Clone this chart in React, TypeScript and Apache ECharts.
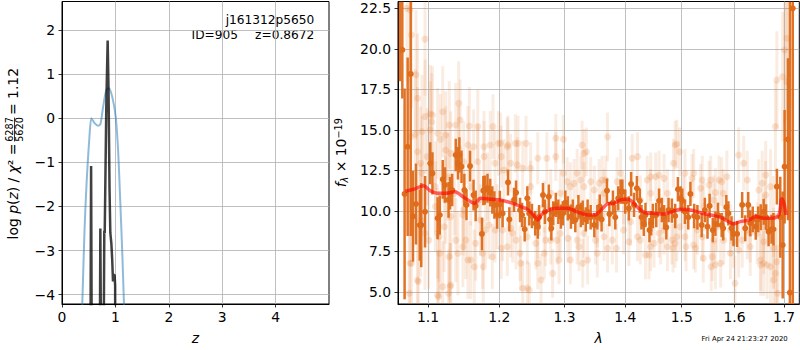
import React, { useEffect, useRef } from 'react';
import * as echarts from 'echarts';

// ---------- Left panel: log p(z) ----------
const zTicks = [0, 1, 2, 3, 4];
const pzTicks = [-4, -3, -2, -1, 0, 1, 2];
const priorZ = [0.35, 0.38, 0.42, 0.457, 0.51, 0.55, 0.58, 0.61, 0.674, 0.72, 0.77, 0.83, 0.875, 0.94, 1.005, 1.05, 1.09, 1.13, 1.16, 1.19];
const priorLogP = [-5.2, -4.2, -2.6, -1.55, -0.49, 0.0, -0.05, -0.11, -0.17, -0.13, 0.26, 0.64, 0.68, 0.49, 0.04, -0.72, -1.85, -3.1, -4.2, -5.5];
const pzZ = [0.5, 0.535, 0.545, 0.555, 0.59, 0.69, 0.712, 0.718, 0.726, 0.75, 0.772, 0.792, 0.8, 0.83, 0.855, 0.863, 0.872, 0.89, 0.905, 0.925, 0.94, 0.955, 0.965, 0.985, 0.995, 1.0];
const pzLogP = [-8, -4.5, -1.08, -4.5, -8, -8, -4.3, -2.5, -4.3, -8, -7, -2.55, -2.6, 0.3, 1.76, 1.76, 0.6, -1.6, -2.6, -2.85, -3.2, -3.7, -3.55, -3.55, -3.8, -8];

// ---------- Right panel: spectrum ----------
const lamTicks = [1.1, 1.2, 1.3, 1.4, 1.5, 1.6, 1.7];
const fluxTicks = [5, 7.5, 10, 12.5, 15, 17.5, 20, 22.5];
const lamRange = [1.0604, 1.7318];
const fluxRange = [4.26, 22.92];

// individual (unbinned) measurements: [lambda, flux, err]
const faintPoints = [
  [1.072, 22.5, 4.5], [1.075, 4.92, 4.5], [1.076, 22.4, 4.5], [1.076, 6.77, 4.5], [1.077, 14.58, 4.5], [1.078, 20.85, 4.5],
  [1.078, 6.77, 4.0], [1.083, 14.75, 4.0], [1.084, 18.4, 4.0], [1.086, 16.95, 4.0], [1.086, 13.65, 4.0], [1.086, 5.74, 4.0],
  [1.087, 5.64, 3.5], [1.09, 9.44, 3.5], [1.09, 12.94, 3.5], [1.092, 14.89, 3.5], [1.092, 12.32, 3.5], [1.096, 15.83, 3.5],
  [1.096, 8.62, 3.5], [1.096, 20.6, 3.5], [1.099, 13.35, 3.0],
  [1.101, 8.2, 3.0], [1.103, 16.0, 3.0], [1.103, 15.0, 3.0], [1.105, 15.5, 3.0], [1.106, 15.92, 3.0], [1.11, 11.5, 2.8],
  [1.11, 10.27, 2.8], [1.113, 14.79, 2.8], [1.113, 4.81, 2.8], [1.113, 8.62, 2.8], [1.114, 4.71, 2.8], [1.115, 8.41, 2.8],
  [1.116, 7.39, 2.8], [1.117, 14.42, 2.8], [1.12, 16.12, 2.8], [1.12, 5.33, 2.8], [1.122, 9.03, 2.8], [1.124, 14.69, 2.7],
  [1.124, 10.68, 2.7], [1.124, 13.76, 2.7], [1.127, 12.11, 2.7], [1.128, 4.92, 2.7], [1.129, 15.3, 2.7], [1.129, 7.18, 2.7],
  [1.13, 5.33, 2.7], [1.131, 13.55, 2.6], [1.131, 9.65, 2.6], [1.131, 5.43, 2.6], [1.136, 11.09, 2.6], [1.138, 15.3, 2.6],
  [1.138, 8.2, 2.6], [1.141, 7.39, 2.6], [1.142, 16.64, 2.6], [1.142, 13.87, 2.6], [1.144, 15.61, 2.5], [1.148, 7.79, 2.5],
  [1.148, 9.75, 2.5], [1.149, 13.04, 2.5], [1.149, 10.06, 2.5], [1.152, 8.2, 2.4], [1.155, 6.97, 2.4], [1.155, 14.07, 2.4],
  [1.157, 15.24, 2.4], [1.159, 11.5, 2.4], [1.159, 6.97, 2.4], [1.163, 13.96, 2.3], [1.164, 6.56, 2.3], [1.166, 8.0, 2.3],
  [1.169, 15.2, 2.3], [1.169, 13.04, 2.3], [1.171, 10.68, 2.2], [1.173, 9.44, 2.2], [1.176, 7.39, 2.2], [1.177, 6.56, 2.2],
  [1.178, 13.96, 2.2], [1.178, 13.35, 2.2], [1.18, 8.82, 2.1], [1.183, 11.5, 2.1], [1.185, 9.13, 2.1], [1.187, 14.07, 2.1],
  [1.19, 7.18, 2.0], [1.191, 15.2, 2.0], [1.194, 12.94, 2.0], [1.194, 8.82, 2.0], [1.197, 9.65, 2.0], [1.199, 14.17, 2.0],
  [1.202, 14.17, 1.9], [1.203, 13.35, 1.9], [1.203, 7.7, 1.9], [1.205, 8.82, 1.9], [1.207, 12.53, 1.9], [1.212, 13.96, 1.8],
  [1.212, 7.79, 1.8], [1.213, 14.07, 1.8], [1.217, 12.94, 1.8], [1.217, 8.93, 1.8], [1.22, 8.62, 1.8], [1.224, 14.17, 1.8],
  [1.225, 8.2, 1.8], [1.227, 12.84, 1.7], [1.228, 14.17, 1.7], [1.231, 7.39, 1.7], [1.232, 6.77, 1.7], [1.235, 12.63, 1.7],
  [1.235, 5.23, 1.7], [1.24, 14.17, 1.7], [1.242, 5.23, 1.7], [1.242, 8.41, 1.7], [1.245, 5.12, 1.7], [1.247, 12.63, 1.6],
  [1.247, 11.5, 1.6], [1.255, 8.0, 1.6], [1.258, 13.25, 1.6], [1.258, 8.62, 1.6], [1.258, 6.77, 1.6], [1.263, 5.74, 1.6],
  [1.268, 7.39, 1.6], [1.268, 10.27, 1.6], [1.27, 8.2, 1.6], [1.272, 13.25, 1.6], [1.278, 8.2, 1.5], [1.278, 11.09, 1.5],
  [1.281, 6.15, 1.5], [1.286, 14.48, 1.5], [1.286, 13.35, 1.5], [1.288, 8.2, 1.5], [1.291, 6.97, 1.5], [1.293, 8.62, 1.5],
  [1.293, 11.09, 1.5], [1.298, 12.32, 1.5], [1.298, 14.42, 1.5],
  [1.304, 11.81, 1.5], [1.305, 8.31, 1.5], [1.309, 6.97, 1.5], [1.309, 11.5, 1.5], [1.315, 11.7, 1.5], [1.32, 12.32, 1.5],
  [1.32, 8.2, 1.5], [1.323, 7.79, 1.5], [1.326, 11.91, 1.5], [1.328, 14.07, 1.5], [1.329, 6.77, 1.5], [1.331, 13.55, 1.5],
  [1.331, 11.5, 1.5], [1.331, 8.62, 1.5], [1.335, 13.65, 1.5], [1.337, 6.97, 1.5], [1.342, 11.81, 1.5], [1.348, 11.29, 1.5],
  [1.35, 8.2, 1.5], [1.353, 7.39, 1.5], [1.353, 9.24, 1.5], [1.356, 11.71, 1.5], [1.361, 11.91, 1.5], [1.364, 11.09, 1.5],
  [1.364, 8.41, 1.5], [1.367, 11.91, 1.5], [1.37, 14.57, 1.5], [1.37, 7.7, 1.5], [1.378, 8.2, 1.5], [1.385, 7.7, 1.5],
  [1.386, 11.81, 1.5], [1.392, 12.32, 1.5], [1.397, 8.82, 1.5], [1.397, 10.68, 1.5],
  [1.406, 8.1, 1.5], [1.409, 9.34, 1.5], [1.412, 13.25, 1.5], [1.421, 13.35, 1.5], [1.421, 8.41, 1.5], [1.426, 8.2, 1.5],
  [1.426, 10.68, 1.5], [1.435, 7.28, 1.5], [1.438, 11.91, 1.5], [1.441, 7.28, 1.5], [1.444, 7.79, 1.5], [1.444, 11.09, 1.5],
  [1.444, 12.11, 1.5], [1.45, 8.0, 1.5], [1.453, 12.11, 1.5], [1.459, 8.62, 1.5], [1.459, 12.22, 1.5], [1.462, 8.2, 1.5],
  [1.468, 12.01, 1.5], [1.468, 8.82, 1.5], [1.474, 7.79, 1.5], [1.474, 11.09, 1.5], [1.482, 8.2, 1.5], [1.484, 7.7, 1.5],
  [1.485, 12.94, 1.5], [1.488, 14.07, 1.5], [1.488, 8.0, 1.5], [1.491, 8.41, 1.5], [1.491, 14.13, 1.5], [1.496, 13.65, 1.5],
  [1.497, 9.03, 1.5],
  [1.503, 10.68, 1.5], [1.506, 12.32, 1.5], [1.506, 8.41, 1.5], [1.508, 7.79, 1.5], [1.519, 12.01, 1.5], [1.522, 7.9, 1.5],
  [1.522, 12.32, 1.5], [1.525, 7.7, 1.5], [1.529, 8.82, 1.5], [1.535, 11.4, 1.5], [1.538, 11.91, 1.5], [1.538, 8.41, 1.5],
  [1.54, 7.08, 1.5], [1.541, 10.27, 1.5], [1.551, 11.6, 1.5], [1.554, 11.91, 1.5], [1.555, 6.56, 1.5], [1.557, 7.18, 1.5],
  [1.56, 10.68, 1.5], [1.56, 8.2, 1.5], [1.563, 11.13, 1.5], [1.563, 6.67, 1.5], [1.566, 9.03, 1.5], [1.57, 11.91, 1.5],
  [1.573, 6.77, 1.5], [1.575, 11.81, 1.5], [1.578, 11.09, 1.5], [1.579, 8.2, 1.5], [1.585, 12.11, 1.6], [1.592, 7.39, 1.6],
  [1.592, 8.82, 1.6], [1.598, 8.1, 1.6],
  [1.601, 5.54, 1.7], [1.608, 13.45, 1.7], [1.608, 7.59, 1.7], [1.615, 8.2, 1.7], [1.618, 12.94, 1.7], [1.625, 8.82, 1.8],
  [1.625, 11.91, 1.8], [1.631, 7.79, 1.8], [1.631, 8.62, 1.8], [1.645, 8.62, 1.9], [1.648, 11.29, 1.9], [1.652, 6.97, 1.9],
  [1.652, 6.67, 1.9], [1.655, 11.71, 2.0], [1.658, 6.77, 2.0], [1.658, 9.03, 2.0], [1.658, 8.1, 2.0], [1.662, 12.22, 2.1],
  [1.662, 10.98, 2.1], [1.665, 6.67, 2.1], [1.672, 6.56, 2.3], [1.672, 11.5, 2.3], [1.678, 7.7, 2.5], [1.678, 9.65, 2.5],
  [1.678, 5.74, 2.5], [1.682, 6.15, 2.8], [1.682, 15.2, 2.8], [1.685, 18.08, 3.0], [1.685, 6.87, 3.0], [1.687, 4.92, 3.0],
  [1.697, 18.28, 4.0], [1.701, 19.93, 4.5], [1.706, 20.65, 5.0], [1.706, 17.97, 5.0],
];

// binned spectrum: [lambda, flux, err]
const binnedPoints = [
  [1.063, 24.0, 6.0], [1.066, 19.93, 3.0], [1.069, 11.05, 6.5], [1.073, 13.96, 5.5], [1.077, 18.45, 10.0], [1.08, 9.67, 2.8],
  [1.084, 10.43, 2.5], [1.089, 9.13, 2.2], [1.091, 9.13, 2.6], [1.096, 9.95, 2.2], [1.103, 12.94, 1.3], [1.106, 12.32, 1.3],
  [1.113, 9.55, 1.3], [1.116, 9.75, 1.2], [1.12, 11.95, 1.2], [1.123, 11.6, 1.1], [1.128, 10.68, 1.1], [1.13, 11.09, 1.0],
  [1.133, 11.29, 1.0], [1.138, 13.45, 1.0], [1.141, 12.94, 1.0], [1.143, 13.45, 1.1], [1.146, 12.73, 1.0], [1.15, 11.29, 1.0],
  [1.153, 10.37, 0.95], [1.158, 12.77, 0.95], [1.163, 10.98, 0.95], [1.166, 10.31, 0.95], [1.175, 8.58, 1.0], [1.177, 11.25, 0.9],
  [1.179, 11.29, 0.9], [1.183, 11.4, 0.9], [1.187, 11.13, 0.85], [1.19, 10.68, 0.85], [1.193, 10.37, 0.85], [1.197, 9.75, 0.85],
  [1.201, 10.4, 0.85], [1.205, 9.85, 0.85], [1.213, 11.76, 0.8], [1.215, 9.48, 0.75], [1.222, 10.68, 0.75], [1.225, 11.13, 0.75],
  [1.231, 10.06, 0.75], [1.234, 9.75, 0.75], [1.238, 8.87, 0.75], [1.242, 10.78, 0.75], [1.245, 9.85, 0.75], [1.249, 9.69, 0.75],
  [1.254, 9.24, 0.75], [1.258, 9.03, 0.75], [1.26, 9.61, 0.75], [1.266, 10.98, 0.75], [1.269, 9.95, 0.75], [1.275, 10.88, 0.75],
  [1.277, 9.48, 0.75], [1.279, 8.93, 0.75], [1.282, 9.85, 0.75], [1.286, 10.37, 0.75], [1.29, 9.95, 0.75], [1.294, 9.65, 0.75],
  [1.297, 9.85, 0.75], [1.301, 10.51, 0.75], [1.305, 10.16, 0.75], [1.31, 9.65, 0.75], [1.313, 9.95, 0.75], [1.317, 9.44, 0.75],
  [1.322, 10.23, 0.75], [1.326, 9.75, 0.75], [1.329, 9.89, 0.75], [1.334, 9.48, 0.75], [1.337, 9.95, 0.75], [1.342, 9.61, 0.75],
  [1.348, 9.13, 0.75], [1.353, 9.61, 0.75], [1.357, 10.27, 0.75], [1.36, 9.48, 0.75], [1.369, 11.25, 0.75], [1.373, 9.81, 0.75],
  [1.379, 10.51, 0.75], [1.383, 9.61, 0.75], [1.388, 10.78, 0.75], [1.392, 11.19, 0.75], [1.395, 11.19, 0.75], [1.4, 10.57, 0.75],
  [1.406, 10.16, 0.75], [1.41, 11.66, 0.75], [1.415, 10.37, 0.75], [1.42, 11.4, 0.75], [1.425, 10.63, 0.75], [1.428, 9.61, 0.75],
  [1.432, 9.2, 0.75], [1.435, 9.75, 0.75], [1.442, 8.82, 0.75], [1.445, 9.24, 0.75], [1.448, 9.69, 0.75], [1.454, 9.75, 0.75],
  [1.459, 10.63, 0.75], [1.464, 10.06, 0.75], [1.468, 9.61, 0.75], [1.472, 8.99, 0.75], [1.476, 10.06, 0.75], [1.482, 10.02, 0.75],
  [1.488, 9.69, 0.75], [1.493, 11.34, 0.75], [1.498, 10.78, 0.75], [1.501, 10.63, 0.75], [1.506, 9.95, 0.75], [1.512, 9.61, 0.75],
  [1.516, 11.05, 0.75], [1.523, 9.69, 0.75], [1.529, 9.61, 0.75], [1.537, 9.13, 0.75], [1.543, 10.06, 0.75], [1.548, 9.03, 0.75],
  [1.552, 10.31, 0.75], [1.558, 8.82, 0.75], [1.563, 9.2, 0.75], [1.568, 9.75, 0.75], [1.575, 9.13, 0.75], [1.578, 8.93, 0.75],
  [1.584, 10.23, 0.75], [1.588, 9.85, 0.75], [1.594, 8.93, 0.75], [1.598, 8.58, 0.75], [1.605, 8.58, 0.8], [1.615, 10.37, 0.8],
  [1.621, 8.93, 0.8], [1.627, 10.37, 0.8], [1.631, 9.24, 0.8], [1.636, 9.48, 0.8], [1.642, 9.03, 0.8], [1.647, 9.48, 0.8],
  [1.652, 9.61, 0.8], [1.658, 9.95, 0.8], [1.663, 9.61, 0.8], [1.668, 8.72, 0.9], [1.674, 8.87, 0.9], [1.678, 8.87, 1.0],
  [1.685, 11.5, 1.1], [1.692, 9.61, 2.5], [1.697, 7.9, 3.3], [1.701, 12.73, 3.5], [1.708, 14.42, 5.0], [1.712, 4.96, 18.0],
  [1.718, 22.5, 20.0],
];

// best-fit model
const modelLam = [1.07, 1.081, 1.094, 1.103, 1.113, 1.124, 1.137, 1.148, 1.159, 1.165, 1.173, 1.187, 1.202, 1.217, 1.232, 1.242,
  1.25, 1.255, 1.258, 1.263, 1.273, 1.288, 1.304, 1.32, 1.337, 1.348, 1.359, 1.37, 1.381, 1.392, 1.403, 1.412, 1.423, 1.435,
  1.453, 1.468, 1.482, 1.497, 1.516, 1.535, 1.554, 1.573, 1.588, 1.598, 1.611, 1.628, 1.642, 1.658, 1.675, 1.689, 1.695, 1.7, 1.704];
const modelFlux = [11.22, 11.34, 11.55, 11.25, 11.09, 11.09, 11.19, 10.88, 10.57, 10.47, 10.78, 10.72, 10.68, 10.51, 10.27, 10.1,
  9.81, 9.55, 9.44, 9.75, 10.02, 10.16, 10.16, 9.95, 9.75, 9.75, 10.06, 10.43, 10.47, 10.68, 10.74, 10.57, 10.16, 9.89,
  9.85, 9.81, 9.95, 10.1, 10.06, 9.89, 9.75, 9.61, 9.34, 9.2, 9.34, 9.44, 9.65, 9.55, 9.55, 9.75, 10.75, 10.43, 9.75];

const FONT = 'DejaVu Sans';
const TICK_FS = 13.9;

function errRender(lw: number, r: number, barColor: string, dotColor: string) {
  return (params: any, api: any) => {
    const cs = params.coordSys;
    const x = api.value(0), y = api.value(1), e = api.value(2);
    const c = api.coord([x, y]);
    const lo = api.coord([x, y - e]);
    const hi = api.coord([x, y + e]);
    const top = cs.y, bot = cs.y + cs.height;
    const y1 = Math.max(top, Math.min(bot, lo[1]));
    const y2 = Math.max(top, Math.min(bot, hi[1]));
    const children: any[] = [];
    if (y1 !== y2) {
      children.push({ type: 'line', shape: { x1: c[0], y1, x2: c[0], y2 }, style: { stroke: barColor, lineWidth: lw } });
    }
    if (c[1] >= top - r && c[1] <= bot + r) {
      children.push({ type: 'circle', shape: { cx: c[0], cy: c[1], r }, style: { fill: dotColor } });
    }
    return { type: 'group', children };
  };
}

const minusFmt = (v: number) => (v < 0 ? '\u2212' + Math.abs(v) : String(v));

export default function App() {
  const ref = useRef<HTMLDivElement>(null);
  useEffect(() => {
    if (!ref.current) return;
    const chart = echarts.init(ref.current, undefined, { renderer: 'svg' });
    const axisCommon = {
      axisLine: { show: true, onZero: false, lineStyle: { color: '#000', width: 1 } },
      axisTick: { show: true, length: 3.5, lineStyle: { color: '#000', width: 0.8 } },
      splitLine: { show: true, lineStyle: { color: '#b0b0b0', width: 0.8 } },
    };
    const lblStyle = { color: '#000', fontFamily: FONT, fontSize: TICK_FS };
    const logLamTicks = lamTicks.map((v) => Math.log10(v));
    const option: any = {
      animation: false,
      backgroundColor: '#fff',
      grid: [
        { left: 62, top: 1.5, width: 267, height: 302.5, show: true, borderColor: '#000', borderWidth: 1, backgroundColor: 'transparent' },
        { left: 398, top: 1.5, width: 401.3, height: 302.5, show: true, borderColor: '#000', borderWidth: 1, backgroundColor: 'transparent' },
      ],
      xAxis: [
        {
          type: 'value', gridIndex: 0, min: 0, max: 5,
          ...axisCommon,
          axisTick: { ...axisCommon.axisTick, customValues: zTicks },
          axisLabel: { ...lblStyle, margin: 6, customValues: zTicks, formatter: (v: number) => String(v) },
          name: 'z', nameLocation: 'middle', nameGap: 27,
          nameTextStyle: { fontFamily: FONT, fontSize: TICK_FS, fontStyle: 'italic', color: '#000' },
        },
        {
          type: 'value', gridIndex: 1, min: Math.log10(lamRange[0]), max: Math.log10(lamRange[1]),
          ...axisCommon,
          axisTick: { ...axisCommon.axisTick, customValues: logLamTicks },
          axisLabel: { ...lblStyle, margin: 6, customValues: logLamTicks, formatter: (v: number) => Math.pow(10, v).toFixed(1) },
          name: 'λ', nameLocation: 'middle', nameGap: 27,
          nameTextStyle: { fontFamily: FONT, fontSize: TICK_FS, fontStyle: 'italic', color: '#000' },
        },
      ],
      yAxis: [
        {
          type: 'value', gridIndex: 0, min: -4.21, max: 2.646,
          ...axisCommon,
          axisTick: { ...axisCommon.axisTick, customValues: pzTicks },
          axisLabel: { ...lblStyle, margin: 7, customValues: pzTicks, formatter: minusFmt },
        },
        {
          type: 'value', gridIndex: 1, min: fluxRange[0], max: fluxRange[1],
          ...axisCommon,
          axisTick: { ...axisCommon.axisTick, customValues: fluxTicks },
          axisLabel: { ...lblStyle, margin: 7, customValues: fluxTicks, formatter: (v: number) => v.toFixed(1) },
          name: '{i|f}{sub|λ}{r| × 10}{sup|\u221219}', nameLocation: 'middle', nameGap: 46, nameRotate: 90,
          nameTextStyle: {
            rich: {
              i: { fontFamily: FONT, fontSize: TICK_FS, fontStyle: 'italic', color: '#000' },
              sub: { fontFamily: FONT, fontSize: 9.7, fontStyle: 'italic', color: '#000', verticalAlign: 'bottom', padding: [6, 0, 0, 0] },
              r: { fontFamily: FONT, fontSize: TICK_FS, color: '#000' },
              sup: { fontFamily: FONT, fontSize: 9.7, color: '#000', verticalAlign: 'top', padding: [0, 0, 6, 0] },
            },
          },
        },
      ],
      series: [
        {
          type: 'line', xAxisIndex: 0, yAxisIndex: 0, showSymbol: false, clip: true, smooth: 0.3,
          data: priorZ.map((z, i) => [z, priorLogP[i]]),
          lineStyle: { color: 'rgba(31,119,180,0.5)', width: 2 }, z: 2,
        },
        {
          type: 'line', xAxisIndex: 0, yAxisIndex: 0, showSymbol: false, clip: true,
          data: pzZ.map((z, i) => [z, pzLogP[i]]),
          lineStyle: { color: 'rgba(0,0,0,0.75)', width: 2.5 }, z: 3,
        },
        {
          type: 'custom', xAxisIndex: 1, yAxisIndex: 1, clip: true,
          renderItem: errRender(3, 3.5, 'rgba(230,120,40,0.14)', 'rgba(230,120,40,0.2)'),
          encode: { x: 0, y: 1 },
          data: faintPoints.map((p) => [Math.log10(p[0]), p[1], p[2]]), z: 2,
        },
        {
          type: 'custom', xAxisIndex: 1, yAxisIndex: 1, clip: true,
          renderItem: errRender(2.5, 3, 'rgba(222,108,26,0.95)', 'rgba(222,108,26,1)'),
          encode: { x: 0, y: 1 },
          data: binnedPoints.map((p) => [Math.log10(p[0]), p[1], p[2]]), z: 3,
        },
        {
          type: 'line', xAxisIndex: 1, yAxisIndex: 1, showSymbol: false, clip: true, smooth: 0.3,
          data: modelLam.map((l, i) => [Math.log10(l), modelFlux[i]]),
          lineStyle: { color: 'rgba(255,0,0,0.6)', width: 3.5 }, z: 4,
        },
      ],
      graphic: [
        { type: 'text', x: 314.3, y: 20, style: { text: 'j161312p5650', align: 'right', verticalAlign: 'middle', fontFamily: FONT, fontSize: 12.2, fill: '#000' } },
        { type: 'text', x: 238, y: 34.7, style: { text: 'ID=905', align: 'right', verticalAlign: 'middle', fontFamily: FONT, fontSize: 12.2, fill: '#000' } },
        { type: 'text', x: 314.3, y: 34.7, style: { text: 'z=0.8672', align: 'right', verticalAlign: 'middle', fontFamily: FONT, fontSize: 12.2, fill: '#000' } },
        { type: 'text', x: 787.7, y: 339, style: { text: 'Fri Apr 24 21:23:27 2020', align: 'right', verticalAlign: 'middle', fontFamily: FONT, fontSize: 6.9, fill: '#000' } },
        {
          type: 'group', x: 14.5, y: 153.5, rotation: Math.PI / 2,
          children: [
            {
              type: 'text', x: 10, y: -2,
              style: {
                text: '{r|log }{i|p}{r|(}{i|z}{r|) / }{i|χ}{r|² =}',
                align: 'right', verticalAlign: 'middle',
                rich: {
                  r: { fontFamily: FONT, fontSize: TICK_FS, fill: '#000' },
                  i: { fontFamily: FONT, fontSize: TICK_FS, fontStyle: 'italic', fill: '#000' },
                },
              },
            },
            { type: 'text', x: 24, y: -5, style: { text: '6287', align: 'center', verticalAlign: 'middle', fontFamily: FONT, fontSize: 9.7, fill: '#000' } },
            { type: 'line', shape: { x1: 12, y1: 0, x2: 36, y2: 0 }, style: { stroke: '#000', lineWidth: 0.8 } },
            { type: 'text', x: 24, y: 5, style: { text: '5620', align: 'center', verticalAlign: 'middle', fontFamily: FONT, fontSize: 9.7, fill: '#000' } },
            { type: 'text', x: 38.5, y: -2, style: { text: '= 1.12', align: 'left', verticalAlign: 'middle', fontFamily: FONT, fontSize: TICK_FS, fill: '#000' } },
          ],
        },
      ],
    };
    chart.setOption(option);
    return () => chart.dispose();
  }, []);
  return <div ref={ref} style={{ position: 'fixed', left: 0, top: 0, width: 800, height: 350 }} />;
}
